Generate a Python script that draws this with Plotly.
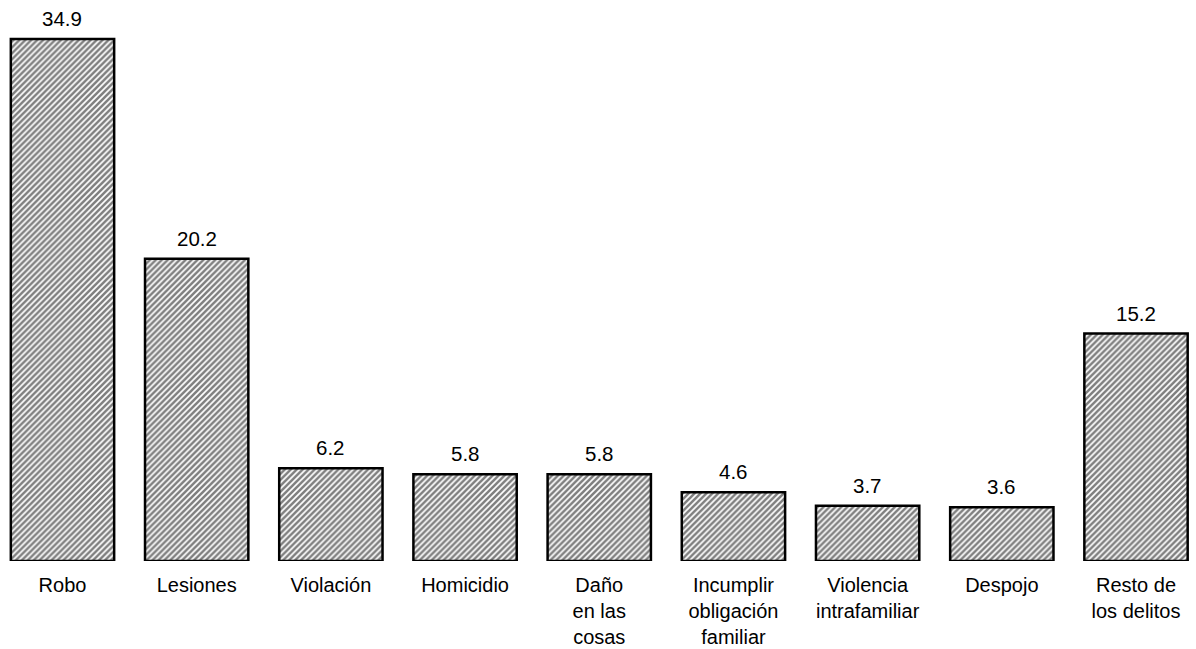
import plotly.graph_objects as go

categories = ["Robo", "Lesiones", "Violación", "Homicidio", "Daño<br>en las<br>cosas",
              "Incumplir<br>obligación<br>familiar", "Violencia<br>intrafamiliar", "Despojo",
              "Resto de<br>los delitos"]
values = [34.9, 20.2, 6.2, 5.8, 5.8, 4.6, 3.7, 3.6, 15.2]
value_labels = ["34.9", "20.2", "6.2", "5.8", "5.8", "4.6", "3.7", "3.6", "15.2"]

FONT = "Liberation Sans, Arial, sans-serif"
x_idx = list(range(len(categories)))

fig = go.Figure()
fig.add_trace(go.Bar(
    x=x_idx, y=values,
    marker=dict(color="white",
                line=dict(color="black", width=2.5),
                pattern=dict(shape="/", fgcolor="black", bgcolor="white",
                             size=4.2, solidity=0.6)),
    width=0.77,
    hoverinfo="skip",
))

for xi, v, lab in zip(x_idx, values, value_labels):
    fig.add_annotation(x=xi, y=v, text=lab, showarrow=False, yanchor="bottom",
                       yshift=7, font=dict(family=FONT, size=20.5, color="black"))

fig.update_layout(
    width=1196, height=649,
    margin=dict(l=0, r=0, t=0, b=88),
    plot_bgcolor="white", paper_bgcolor="white",
    showlegend=False,
    xaxis=dict(range=[-0.4657, 8.447], tickmode="array", tickvals=x_idx,
               ticktext=categories, showgrid=False, zeroline=False, showline=False,
               ticks="", ticklabelstandoff=10,
               tickfont=dict(family=FONT, size=20, color="black")),
    yaxis=dict(range=[0, 37.5], visible=False),
)

fig.write_html("out.html", config={"displayModeBar": False},
               post_script="document.body.style.margin='0';document.body.style.overflow='hidden';")
